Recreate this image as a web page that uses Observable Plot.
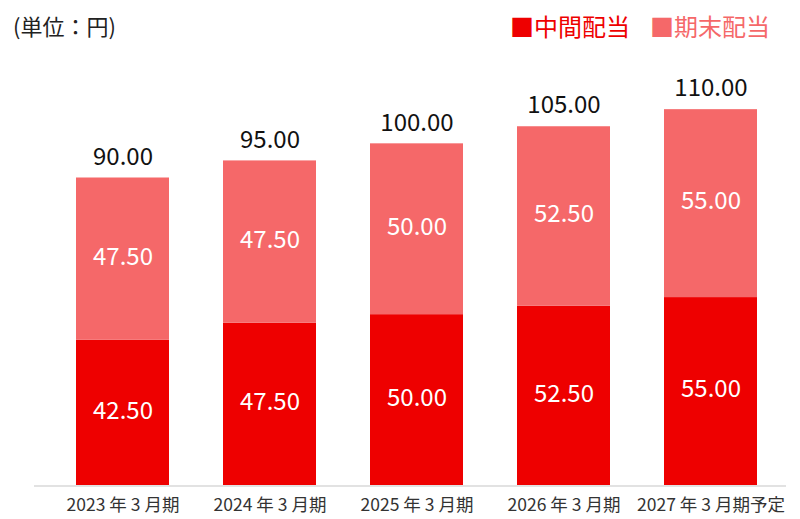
<!DOCTYPE html>
<html>
<head>
<meta charset="utf-8">
<script src="https://cdn.jsdelivr.net/npm/d3@7"></script>
<script src="https://cdn.jsdelivr.net/npm/@observablehq/plot@0.6"></script>
<style>
  html, body { margin: 0; padding: 0; background: #fff; }
  body { width: 800px; height: 519px; overflow: hidden; font-family: "Noto Sans CJK JP", "Noto Sans", sans-serif; }
  #header { position: relative; height: 50px; }
  #unit { position: absolute; left: 13px; top: 14px; font-size: 22px; color: #222; line-height: 1; }
  #legend { position: absolute; right: 30px; top: 14px; font-size: 24px; line-height: 1; white-space: nowrap; }
  #legend span { margin-left: 20px; }
  #chart svg { display: block; }
</style>
</head>
<body>
<div id="header">
  <div id="unit">(単位：円)</div>
  <div id="legend"></div>
</div>
<div id="chart"></div>
<script>
const years = ["2023 年 3 月期", "2024 年 3 月期", "2025 年 3 月期", "2026 年 3 月期", "2027 年 3 月期予定"];
const interim = [42.5, 47.5, 50, 52.5, 55];
const yearEnd = [47.5, 47.5, 50, 52.5, 55];
const totals = [90, 95, 100, 105, 110];
const seriesNames = ["中間配当", "期末配当"];
const seriesColors = ["#ee0000", "#f56869"];

const data = [];
years.forEach((y, i) => {
  data.push({year: y, series: seriesNames[0], value: interim[i]});
  data.push({year: y, series: seriesNames[1], value: yearEnd[i]});
});
const totalData = years.map((y, i) => ({year: y, total: totals[i]}));

const legend = document.getElementById("legend");
seriesNames.forEach((s, i) => {
  const sp = document.createElement("span");
  sp.style.color = seriesColors[i];
  sp.textContent = "■" + s;
  legend.appendChild(sp);
});

const fmt = d3.format(".2f");
const chart = Plot.plot({
  width: 800,
  height: 469,
  marginLeft: 34,
  marginRight: 14,
  marginTop: 25,
  marginBottom: 34,
  style: {fontFamily: "'Noto Sans CJK JP', 'Noto Sans', sans-serif", background: "#fff"},
  x: {domain: years, paddingInner: 0.37, paddingOuter: 0.185, insetLeft: 13.75, insetRight: 0.75, label: null},
  y: {domain: [0, 120], axis: null},
  color: {domain: seriesNames, range: seriesColors},
  marks: [
    Plot.barY(data, {x: "year", y: "value", fill: "series", order: seriesNames}),
    Plot.ruleY([0], {stroke: "#d9d9d9", strokeWidth: 1.5, dy: 0.5}),
    Plot.text(data, Plot.stackY({x: "year", y: "value", z: "series", order: seriesNames, text: d => fmt(d.value), fill: "#fff", fontSize: 24, dy: -2})),
    Plot.text(totalData, {x: "year", y: "total", text: d => fmt(d.total), fill: "#111", fontSize: 24, dy: -21}),
    Plot.axisX({tickSize: 0, tickPadding: 13, fontSize: 17.5, color: "#333", label: null})
  ]
});
document.getElementById("chart").appendChild(chart);
</script>
</body>
</html>
